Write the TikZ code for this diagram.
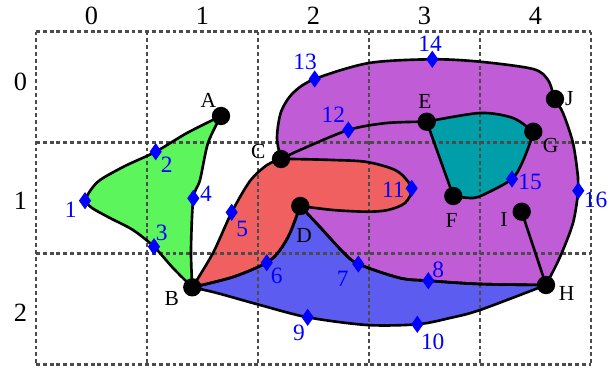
\documentclass[tikz,border=0pt]{standalone}
\usepackage{fontspec}
\setmainfont{Liberation Serif}
\usetikzlibrary{shapes.geometric}
\definecolor{cgreen}{RGB}{92,245,92}
\definecolor{cred}{RGB}{240,96,96}
\definecolor{cpurple}{RGB}{192,92,214}
\definecolor{cblue}{RGB}{92,92,240}
\definecolor{cteal}{RGB}{0,158,168}
\definecolor{cgrid}{RGB}{75,75,75}
\newcommand\pathgreen{(vA) -- plot[smooth] coordinates {(vA) (187,133) (d2) (125,166) (100,180) (90,191) (d1)}
  -- plot[smooth] coordinates {(d1) (92,208) (110,218) (133,230) (d3) (173,268) (vB)}
  -- plot[smooth] coordinates {(vB) (191,250) (d4) (200,180) (208,143) (vA)} -- cycle}
\newcommand\pathred{(vB) -- plot[smooth] coordinates {(vB) (213,253) (d5) (250,181) (267,165) (vC)}
  -- plot[smooth] coordinates {(vC) (292,159) (333,160) (367,162) (397,171) (d11) (405,203) (388,210) (367,211.7) (333,210) (vD)}
  -- plot[smooth] coordinates {(vD) (290,233) (280,250) (d6) (233,277) (vB)} -- cycle}
\newcommand\pathpurple{(vC) -- plot[smooth] coordinates {(vC) (277,138) (281,112) (293,93) (d13) (369,63) (d14) (480,61.7) (533,69) (548,80) (vJ) (563,113) (573,143) (578,177) (d16) (573,223) (560,257) (vH)}
  -- plot[smooth] coordinates {(vH) (480,284) (d8) (400,278) (d7) (343,252) (320,227) (vD)}}
\newcommand\pathblue{(vB) -- plot[smooth] coordinates {(vB) (233,277) (d6) (280,250) (290,233) (vD)}
  -- plot[smooth] coordinates {(vD) (320,227) (343,252) (d7) (400,278) (d8) (480,284) (vH)}
  -- plot[smooth] coordinates {(vH) (480,310) (450,318) (d10) (367,325) (d9) (260,305) (217,293) (vB)} -- cycle}
\newcommand\pathteal{(vE) -- plot[smooth] coordinates {(vE) (480,113) (513,118) (vG)}
  -- plot[smooth] coordinates {(vG) (530,143) (522,163) (d15) (487,193) (473,198) (vF)} -- (vE) -- cycle}
\begin{document}
\begin{tikzpicture}[x=0.018018cm, y=-0.018018cm,
  vertex/.style={circle, fill=black, minimum size=9.4pt, inner sep=0pt},
  dmark/.style={diamond, fill=blue, minimum width=6.4pt, minimum height=9pt, inner sep=0pt},
  vlabel/.style={font=\fontsize{11}{12}\selectfont, inner sep=0pt},
  dlabel/.style={text=blue, font=\fontsize{12}{14}\selectfont, inner sep=0pt},
  axlabel/.style={font=\fontsize{13.5}{16}\selectfont, inner sep=0pt},
  gridline/.style={cgrid, dash pattern=on 2pt off 1.5pt, line width=1.15pt},
  edge/.style={black, line width=1.35pt, line join=round, line cap=round},
]
\useasboundingbox (0,0) rectangle (614,369);
% vertices
\coordinate (vA) at (221,116);
\coordinate (vB) at (192.3,287.3);
\coordinate (vC) at (281,159);
\coordinate (vD) at (300.3,206);
\coordinate (vE) at (426.7,121.7);
\coordinate (vF) at (453.3,196);
\coordinate (vG) at (533.3,131.7);
\coordinate (vH) at (546,285);
\coordinate (vI) at (521.7,211.7);
\coordinate (vJ) at (555,99);
% diamonds
\coordinate (d1) at (85,200.7);
\coordinate (d2) at (155.7,151.7);
\coordinate (d3) at (154,246.7);
\coordinate (d4) at (193.3,198.3);
\coordinate (d5) at (231.7,212.3);
\coordinate (d6) at (266.7,262.7);
\coordinate (d7) at (358.3,264);
\coordinate (d8) at (428.3,280.7);
\coordinate (d9) at (307.7,317.3);
\coordinate (d10) at (417.3,324.3);
\coordinate (d11) at (411.7,188.3);
\coordinate (d12) at (348.3,130);
\coordinate (d13) at (314.7,79);
\coordinate (d14) at (432.3,59.3);
\coordinate (d15) at (512,179);
\coordinate (d16) at (578.3,190.7);
% fills
\fill[cpurple] \pathpurple -- cycle;
\fill[cred] \pathred;
\fill[cblue] \pathblue;
\fill[cteal] \pathteal;
\fill[cgreen] \pathgreen;
% grid
\foreach \gx in {36,147,258,369,480,591} \draw[gridline] (\gx,31.5) -- (\gx,364.5);
\foreach \gy in {31.5,142.5,253.5,364.5} \draw[gridline] (36,\gy) -- (591,\gy);
% outlines
\draw[edge] \pathpurple;
\draw[edge] \pathred;
\draw[edge] \pathblue;
\draw[edge] \pathteal;
\draw[edge] \pathgreen;
\draw[edge] plot[smooth] coordinates {(vC) (300,150) (d12) (387,123) (vE)};
\draw[edge] (vI) -- (vH);
% vertex nodes
\foreach \v in {A,B,C,D,E,F,G,H,I,J} \node[vertex] (\v) at (v\v) {};
% diamond nodes
\foreach \i in {1,...,16} \node[dmark] (m\i) at (d\i) {};
% vertex labels
\node[vlabel] (lA) at (208.3,100) {A};
\node[vlabel] (lB) at (171.7,298.3) {B};
\node[vlabel] (lC) at (258.3,151.7) {C};
\node[vlabel] (lD) at (304,235) {D};
\node[vlabel] (lE) at (425,101.7) {E};
\node[vlabel] (lF) at (451.7,220) {F};
\node[vlabel] (lG) at (550.7,145) {G};
\node[vlabel] (lH) at (566.7,293.3) {H};
\node[vlabel] (lI) at (504,219.3) {I};
\node[vlabel] (lJ) at (569.3,99) {J};
% diamond labels
\node[dlabel] (n1) at (70.7,209.3) {1};
\node[dlabel] (n2) at (166.7,165) {2};
\node[dlabel] (n3) at (161.7,233.3) {3};
\node[dlabel] (n4) at (206,194) {4};
\node[dlabel] (n5) at (242.3,229.3) {5};
\node[dlabel] (n6) at (276.7,275.7) {6};
\node[dlabel] (n7) at (342.7,279) {7};
\node[dlabel] (n8) at (438.3,270) {8};
\node[dlabel] (n9) at (299,332.7) {9};
\node[dlabel] (n10) at (432.7,341.7) {10};
\node[dlabel] (n11) at (393.3,189.3) {11};
\node[dlabel] (n12) at (333.3,115) {12};
\node[dlabel] (n13) at (305,61.7) {13};
\node[dlabel] (n14) at (430,43.3) {14};
\node[dlabel] (n15) at (530,181.7) {15};
\node[dlabel] (n16) at (595.5,200) {16};
% axis labels
\node[axlabel] (c0) at (91.5,16) {0};
\node[axlabel] (c1) at (202.5,16) {1};
\node[axlabel] (c2) at (313.5,16) {2};
\node[axlabel] (c3) at (424.5,16) {3};
\node[axlabel] (c4) at (535.5,16) {4};
\node[axlabel] (r0) at (20.5,81.7) {0};
\node[axlabel] (r1) at (20.5,200.7) {1};
\node[axlabel] (r2) at (20.5,312.7) {2};
\end{tikzpicture}
\end{document}
